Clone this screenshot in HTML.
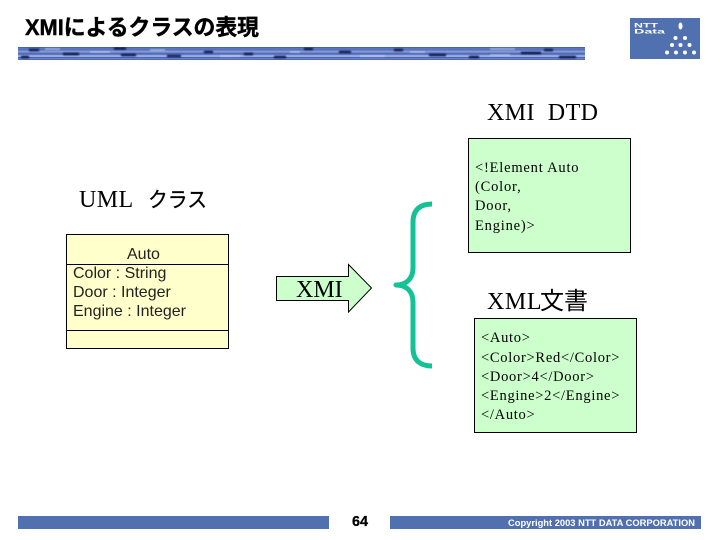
<!DOCTYPE html>
<html>
<head>
<meta charset="utf-8">
<style>
html,body{margin:0;padding:0;background:#fff}
svg{display:block}
text{white-space:pre}
.ser{font-family:"Liberation Serif","Noto Serif CJK JP",serif;fill:#000}
.san{font-family:"Liberation Sans","Noto Sans CJK JP",sans-serif;fill:#000}
</style>
</head>
<body>
<svg width="720" height="540" viewBox="0 0 720 540" xmlns="http://www.w3.org/2000/svg">
<defs>
<linearGradient id="b" x1="0" y1="0" x2="0" y2="1">
<stop offset="0" stop-color="#3c58a8"/>
<stop offset=".3" stop-color="#8ea4e0"/>
<stop offset=".5" stop-color="#5c76c0"/>
<stop offset=".7" stop-color="#a4b6e8"/>
<stop offset="1" stop-color="#4660b0"/>
</linearGradient>
<filter id="s" x="-2%" y="-60%" width="104%" height="220%"><feGaussianBlur stdDeviation=".7"/></filter>
<clipPath id="c"><rect x="18" y="47" width="567" height="13"/></clipPath>
</defs>
<rect width="720" height="540" fill="#fff"/>

<!-- Title -->
<text x="25" y="35" class="san" font-size="22" font-weight="bold" stroke="#000" stroke-width=".4" textLength="234" lengthAdjust="spacingAndGlyphs">XMIによるクラスの表現</text>

<!-- Band -->
<rect x="18" y="47" width="567" height="13" fill="url(#b)"/>
<g clip-path="url(#c)">
<g stroke="#3c56a8" stroke-width="1" opacity=".8">
<path d="M18 50H585M18 54H585M18 57.500H585"/>
</g>
<g stroke="#101c50" stroke-width="2.500" stroke-linecap="round" filter="url(#s)">
<path d="M30 50H38M64 54H78M115 48.500H125M122 55H135M168 56H180M205 52H212M245 54H252M305 49H312M340 52H350M395 50H402M430 55H445M470 57H478M522 53H540M560 57H575M545 50H552M22 57H28M275 57H285"/>
</g>
<g stroke="#c8d4f4" stroke-width="1" filter="url(#s)">
<path d="M45 49H60M90 52H110M150 50H165M220 56H240M290 52H300M360 56H385M410 52H425M490 49H515M490 55H510"/>
</g>
</g>

<!-- Logo -->
<rect x="630" y="18" width="70" height="41" fill="#5070b0"/>
<text x="634" y="27.500" font-family="Liberation Sans, sans-serif" font-size="6.500" font-weight="bold" fill="#fff" textLength="24" lengthAdjust="spacingAndGlyphs">NTT</text>
<text x="634" y="33.500" font-family="Liberation Sans, sans-serif" font-size="6.500" font-weight="bold" fill="#fff" textLength="31" lengthAdjust="spacingAndGlyphs">Data</text>
<g fill="#fff">
<ellipse cx="680.500" cy="26" rx="2" ry="3.500"/>
<circle cx="675.500" cy="38" r="2"/><circle cx="685" cy="38" r="2"/>
<circle cx="672" cy="45" r="2"/><circle cx="680.500" cy="45" r="2"/><circle cx="689.500" cy="45" r="2"/>
<circle cx="667" cy="52.500" r="2"/><circle cx="676" cy="52.500" r="2"/><circle cx="685" cy="52.500" r="2"/><circle cx="694" cy="52.500" r="2"/>
</g>

<!-- XMI DTD heading -->
<text x="487" y="120" class="ser" font-size="24" textLength="111" lengthAdjust="spacing">XMI  DTD</text>

<!-- DTD box -->
<rect x="468.500" y="138.500" width="162" height="114" fill="#ccffcc" stroke="#000" stroke-width="1"/>
<g class="ser" font-size="14.500" letter-spacing=".8">
<text x="475" y="172">&lt;!Element Auto</text>
<text x="475" y="191">(Color,</text>
<text x="475" y="210">Door,</text>
<text x="475" y="230">Engine)&gt;</text>
</g>

<!-- UML heading -->
<text x="79" y="207" class="ser" font-size="24" letter-spacing=".4">UML</text>
<text x="148" y="207" class="san" font-size="21" stroke="#000" stroke-width=".3" textLength="59" lengthAdjust="spacingAndGlyphs">クラス</text>

<!-- UML box -->
<rect x="66.500" y="234.500" width="162" height="114" fill="#ffffcc" stroke="#000" stroke-width="1"/>
<path d="M66.500 264.500H228.500M66.500 330.500H228.500" stroke="#000" stroke-width="1" fill="none"/>
<g class="san" font-size="16" style="fill:#222">
<text x="127" y="259" style="fill:#222">Auto</text>
<text x="73" y="278" style="fill:#222">Color : String</text>
<text x="73" y="297" style="fill:#222">Door : Integer</text>
<text x="73" y="316" style="fill:#222">Engine : Integer</text>
</g>

<!-- Arrow -->
<path d="M276.500 276.500H348.500V264.500L371.500 288L348.500 312V300.500H276.500Z" fill="#ccffcc" stroke="#000" stroke-width="1"/>
<text x="296" y="297" class="ser" font-size="24">XMI</text>

<!-- Brace -->
<path d="M432 204C420 204 413 210 413 222V268C413 279 406 285 396 285C406 285 413 291 413 302V348C413 360 420 366 432 366" fill="none" stroke="#14c296" stroke-width="5" stroke-linecap="butt" stroke-linejoin="round"/>

<!-- XML heading -->
<text x="487" y="309" class="ser" font-size="24" letter-spacing=".6">XML</text>
<text x="540" y="309" class="san" font-size="24" textLength="48" lengthAdjust="spacingAndGlyphs">文書</text>

<!-- XML box -->
<rect x="474.500" y="318.500" width="162" height="114" fill="#ccffcc" stroke="#000" stroke-width="1"/>
<g class="ser" font-size="14.500" letter-spacing=".72">
<text x="481" y="342">&lt;Auto&gt;</text>
<text x="481" y="362">&lt;Color&gt;Red&lt;/Color&gt;</text>
<text x="481" y="381">&lt;Door&gt;4&lt;/Door&gt;</text>
<text x="481" y="400">&lt;Engine&gt;2&lt;/Engine&gt;</text>
<text x="481" y="419">&lt;/Auto&gt;</text>
</g>

<!-- Footer -->
<rect x="18" y="516" width="311" height="13" fill="#5070b0"/>
<rect x="390" y="516" width="311" height="13" fill="#5070b0"/>
<text x="352" y="526" class="san" font-size="15" font-weight="bold" stroke="#000" stroke-width=".3" textLength="16" lengthAdjust="spacingAndGlyphs">64</text>
<text x="508" y="526" font-family="Liberation Sans, sans-serif" font-size="9.500" font-weight="bold" fill="#fff" textLength="187" lengthAdjust="spacingAndGlyphs">Copyright 2003 NTT DATA CORPORATION</text>
</svg>
</body>
</html>
